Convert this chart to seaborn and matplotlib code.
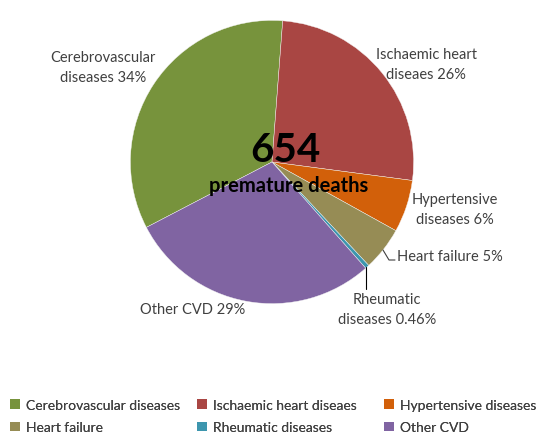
import matplotlib
matplotlib.use("Agg")
import matplotlib.pyplot as plt
from matplotlib.patches import Patch
import seaborn as sns

categories = ["Cerebrovascular diseases", "Ischaemic heart diseaes", "Hypertensive diseases",
              "Heart failure", "Rheumatic diseases", "Other CVD"]
values = [34, 26, 6, 5, 0.46, 29]
label_texts = ["Cerebrovascular\ndiseases 34%", "Ischaemic heart\ndiseaes 26%", "Hypertensive\ndiseases 6%",
               "Heart failure 5%", "Rheumatic\ndiseases 0.46%", "Other CVD 29%"]
colors = ["#77933C", "#A94643", "#D2600A", "#968C55", "#3D96AE", "#8064A2"]
center_number = "654"
center_caption = "premature deaths"

sns.set_theme(style="white")
plt.rcParams["font.family"] = ["Lato", "DejaVu Sans"]

W, H = 538, 435
fig = plt.figure(figsize=(W / 100, H / 100), dpi=100)
ax = fig.add_axes([0, 0, 1, 1])

def py(y):
    return H - y

cx, cy, r = 272, 163, 141.6
ax.pie(values, colors=colors, startangle=207.5, counterclock=False,
       center=(cx, py(cy)), radius=r, frame=False,
       wedgeprops=dict(edgecolor="#f4f4f4", linewidth=0.3))
ax.set_xlim(0, W)
ax.set_ylim(0, H)
ax.set_aspect("equal")
ax.axis("off")

txtcol = "#404040"
fs = 10.5
label_pos = [(103, 68, "center"), (426, 65, "center"), (455, 210, "center"),
             (397, 257, "left"), (387, 310, "center"), (193, 310, "center")]
for t, (x, y, ha) in zip(label_texts, label_pos):
    ax.text(x, py(y), t, ha=ha, va="center", fontsize=fs, color=txtcol, linespacing=1.55)

# leader lines
ax.plot([383, 389, 395], [py(251), py(261), py(261)], color="#404040", lw=0.8)
ax.plot([366, 366], [py(268), py(290)], color="#000000", lw=0.8)

ax.text(285, py(150), center_number, ha="center", va="center", fontsize=29,
        fontweight="bold", color="black")
ax.text(289, py(186), center_caption, ha="center", va="center", fontsize=14.5,
        fontweight="bold", color="black")

# legend: three columns, row-major order
col_x = [10, 197, 384]
for c in range(3):
    handles = [Patch(facecolor=colors[i], edgecolor="none", label=categories[i]) for i in (c, c + 3)]
    leg = fig.legend(handles=handles, loc="upper left",
                     bbox_to_anchor=(col_x[c] / W, 1 - 400 / H), frameon=False,
                     fontsize=10, handlelength=0.7, handleheight=0.7, handletextpad=0.45,
                     labelspacing=0.74, borderaxespad=0, borderpad=0)
    for t in leg.get_texts():
        t.set_color(txtcol)
    fig.add_artist(leg)

fig.savefig("out.png", dpi=100)
